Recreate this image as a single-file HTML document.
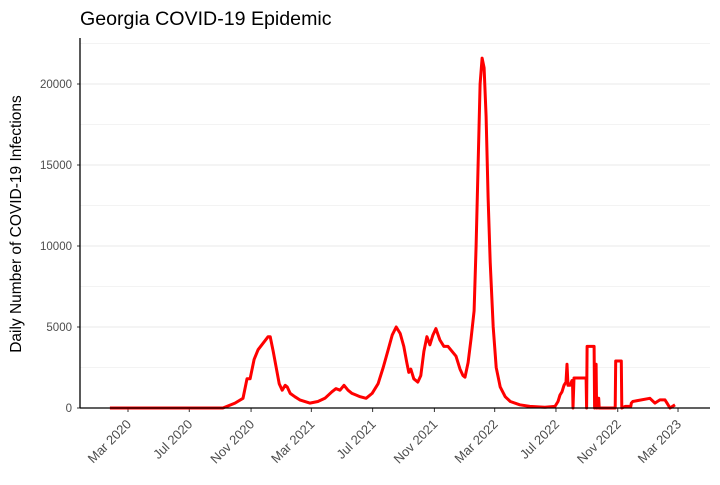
<!DOCTYPE html>
<html><head><meta charset="utf-8"><style>
body{margin:0;background:#fff;}
svg text{font-family:"Liberation Sans",sans-serif;}
</style></head><body>
<svg id="chart" width="720" height="480"></svg>
<script>
// days since 2020-03-01
const days=[-36,189,213,229,237,243,251,259,269,279,283,289,295,301,307,313,317,323,332,342,362,378,392,406,414,422,430,438,446,454,462,474,486,498,508,518,526,534,542,549,555,559,563,569,577,583,589,595,601,607,613,621,629,637,645,653,661,667,671,677,683,689,693,697,701,705,709,713,717,721,727,733,741,751,761,780,800,830,850,856,860,864,868,872,874,876,880,884,885,886,888,890,912,913,914,918,928,929,930,932,933,934,936,937,938,970,971,982,983,990,991,1001,1002,1005,1039,1049,1059,1069,1073,1079,1089,1093,1097,1099];
const cases=[0,0,300,600,1800,1800,3000,3600,4000,4400,4400,3500,2500,1500,1100,1400,1300,900,700,500,300,400,600,1000,1200,1100,1400,1100,900,800,700,600,900,1500,2500,3600,4500,5000,4600,3800,2800,2200,2400,1800,1600,2000,3500,4400,3900,4500,4900,4200,3800,3800,3500,3200,2400,2000,1900,2800,4300,6000,10000,15000,20000,21600,21000,18000,13000,9000,5000,2500,1300,700,400,200,100,50,100,400,800,1000,1400,1600,2700,1400,1400,1700,1700,0,1850,1850,1850,0,3800,3800,3800,0,2700,2700,0,0,600,600,0,0,2900,2900,0,100,100,100,300,400,600,300,500,500,300,0,200];
const yTicks=[0,5000,10000,15000,20000];
const xTickLabels=["Mar 2020","Jul 2020","Nov 2020","Mar 2021","Jul 2021","Nov 2021","Mar 2022","Jul 2022","Nov 2022","Mar 2023"];
const xTickDays=[0,122,245,365,487,610,730,852,975,1095];

const NS="http://www.w3.org/2000/svg";
const svg=document.getElementById('chart');
const L=80,R=710,T=38,B=408;
const xs=d=>128+d*0.5023;
const ys=v=>B-v*(324/20000);
function mk(t,a,p){const e=document.createElementNS(NS,t);for(const k in a)e.setAttribute(k,a[k]);(p||svg).appendChild(e);return e;}

for(let v=2500;v<=22500;v+=5000){
  const g=mk('line',{x1:L,x2:R,y1:ys(v),y2:ys(v),stroke:'#f3f3f3','stroke-width':1});
  
  
}
yTicks.forEach(v=>{
  const g=mk('line',{x1:L,x2:R,y1:ys(v),y2:ys(v),stroke:'#e8e8e8','stroke-width':1});
  
  
  const t=mk('text',{x:L-8,y:ys(v)+4,'text-anchor':'end','font-size':11.5,fill:'#4d4d4d'});
  t.textContent=v;
  
  
  mk('line',{x1:L-3,x2:L,y1:ys(v),y2:ys(v),stroke:'#333'});
});
xTickDays.forEach((d,i)=>{
  const x=xs(d);
  mk('line',{x1:x,x2:x,y1:B,y2:B+4,stroke:'#333'});
  const t=mk('text',{x:x+4,y:B+17,'text-anchor':'end','font-size':13,fill:'#4d4d4d',transform:`rotate(-45 ${x+4} ${B+17})`});
  t.textContent=xTickLabels[i];
  
  
});
const pts=days.map((d,i)=>xs(d).toFixed(1)+','+ys(cases[i]).toFixed(1)).join(' ');
const pl=mk('polyline',{points:pts,fill:'none',stroke:'#ff0000','stroke-width':3,'stroke-linejoin':'round'});


const ax=mk('line',{x1:L,x2:L,y1:T,y2:B,stroke:'#000','stroke-width':1.3});


const bx=mk('line',{x1:L,x2:R,y1:B,y2:B,stroke:'#000','stroke-width':1.3});


const ti=mk('text',{x:80,y:25,'font-size':19.6,fill:'#000'});
ti.textContent='Georgia COVID-19 Epidemic';


const yt=mk('text',{x:21,y:224,'text-anchor':'middle','font-size':15.5,fill:'#000',transform:'rotate(-90 21 224)'});
yt.textContent='Daily Number of COVID-19 Infections';


</script>
</body></html>
